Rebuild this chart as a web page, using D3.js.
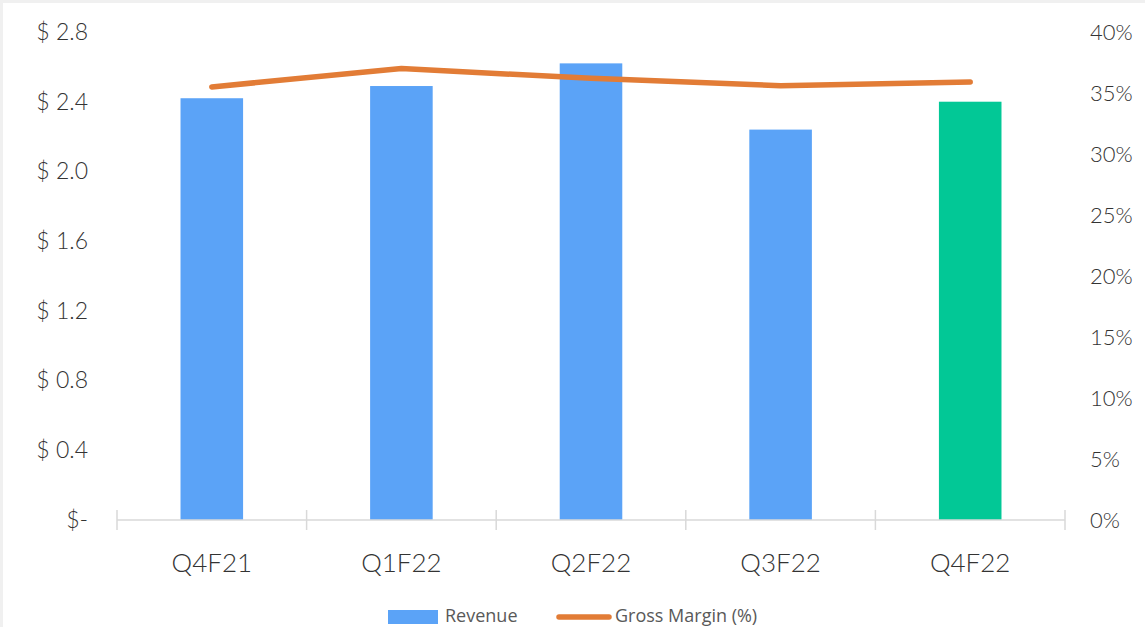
<!DOCTYPE html>
<html>
<head>
<meta charset="utf-8">
<script src="https://cdn.jsdelivr.net/npm/d3@7"></script>
<style>
  body { margin: 0; background: #fff; }
  svg { display: block; }
</style>
</head>
<body>
<div id="chart"></div>
<script>
//Chart data
var quarters = ["Q4F21", "Q1F22", "Q2F22", "Q3F22", "Q4F22"];
var revenue = [2.42, 2.49, 2.62, 2.24, 2.40];
var grossMargin = [0.355, 0.370, 0.362, 0.356, 0.359];
var revenueTicks = [0, 0.4, 0.8, 1.2, 1.6, 2.0, 2.4, 2.8];
var marginTicks = [0, 0.05, 0.1, 0.15, 0.2, 0.25, 0.3, 0.35, 0.4];

//Constants for the SVG
var width = 1145,
  height = 627;
var margin = { top: 32, right: 80, bottom: 107, left: 117 };

var svg = d3
  .select("#chart")
  .append("svg")
  .attr("width", width)
  .attr("height", height);

//thin grey frame at the top and left edges
svg.append("rect").attr("width", width).attr("height", height).attr("fill", "#f0f0f0");
svg.append("rect").attr("x", 3).attr("y", 3).attr("width", width).attr("height", height).attr("fill", "#fff");

var x = d3
  .scaleBand()
  .domain(quarters)
  .range([margin.left, width - margin.right])
  .paddingInner(0.67)
  .paddingOuter(0.335);

var band = d3.scaleBand().domain(quarters).range([margin.left, width - margin.right]);

var yLeft = d3
  .scaleLinear()
  .domain([0, 2.8])
  .range([height - margin.bottom, margin.top]);

var yRight = d3
  .scaleLinear()
  .domain([0, 0.4])
  .range([height - margin.bottom, margin.top]);

var tickFont = "Lato, 'DejaVu Sans', sans-serif";

//Left axis (no line)
var leftAxis = svg
  .append("g")
  .attr("transform", "translate(88,0)")
  .call(
    d3
      .axisLeft(yLeft)
      .tickValues(revenueTicks)
      .tickSize(0)
      .tickPadding(0)
      .tickFormat(function (d) {
        return d === 0 ? "$-" : "$ " + d.toFixed(1);
      })
  );
leftAxis.select(".domain").remove();
leftAxis
  .selectAll("text")
  .style("font-family", tickFont)
  .style("font-weight", 300)
  .style("font-size", "23px")
  .attr("fill", "#333");

//Right axis (no line)
var rightAxis = svg
  .append("g")
  .attr("transform", "translate(1090,0)")
  .call(
    d3
      .axisRight(yRight)
      .tickValues(marginTicks)
      .tickSize(0)
      .tickPadding(0)
      .tickFormat(d3.format(".0%"))
  );
rightAxis.select(".domain").remove();
rightAxis
  .selectAll("text")
  .style("font-family", tickFont)
  .style("font-weight", 300)
  .style("font-size", "22px")
  .attr("fill", "#333");

//Bars
svg
  .append("g")
  .selectAll("rect")
  .data(revenue)
  .enter()
  .append("rect")
  .attr("x", function (d, i) {
    return x(quarters[i]);
  })
  .attr("width", x.bandwidth())
  .attr("y", function (d) {
    return yLeft(d);
  })
  .attr("height", function (d) {
    return yLeft(0) - yLeft(d);
  })
  .attr("fill", function (d, i) {
    return i === quarters.length - 1 ? "#02c896" : "#5ba3f7";
  });

//Category axis with boundary ticks
var baseY = yLeft(0);
var xAxis = svg.append("g");
xAxis
  .append("line")
  .attr("x1", margin.left)
  .attr("x2", width - margin.right)
  .attr("y1", baseY)
  .attr("y2", baseY)
  .attr("stroke", "#d9d9d9")
  .attr("stroke-width", 1.5);
xAxis
  .selectAll("line.tick")
  .data(quarters.concat(["end"]))
  .enter()
  .append("line")
  .attr("class", "tick")
  .attr("x1", function (d, i) {
    return i < quarters.length ? band(d) : width - margin.right;
  })
  .attr("x2", function (d, i) {
    return i < quarters.length ? band(d) : width - margin.right;
  })
  .attr("y1", baseY - 10)
  .attr("y2", baseY + 10)
  .attr("stroke", "#d9d9d9")
  .attr("stroke-width", 1.5);
xAxis
  .selectAll("text")
  .data(quarters)
  .enter()
  .append("text")
  .attr("x", function (d) {
    return band(d) + band.bandwidth() / 2;
  })
  .attr("y", baseY + 52)
  .attr("text-anchor", "middle")
  .style("font-family", tickFont)
  .style("font-weight", 300)
  .style("font-size", "26px")
  .attr("fill", "#333")
  .text(function (d) {
    return d;
  });

//Gross margin line
var line = d3
  .line()
  .x(function (d, i) {
    return band(quarters[i]) + band.bandwidth() / 2;
  })
  .y(function (d) {
    return yRight(d);
  });

svg
  .append("path")
  .datum(grossMargin)
  .attr("d", line)
  .attr("fill", "none")
  .attr("stroke", "#e27c36")
  .attr("stroke-width", 5.5)
  .attr("stroke-linecap", "round")
  .attr("stroke-linejoin", "round");

//Legend
var legend = svg.append("g").style("font-family", "'Open Sans', sans-serif");
legend
  .append("rect")
  .attr("x", 388)
  .attr("y", 610)
  .attr("width", 50)
  .attr("height", 14)
  .attr("fill", "#5ba3f7");
legend
  .append("text")
  .attr("x", 445)
  .attr("y", 622)
  .style("font-size", "18px")
  .attr("fill", "#595959")
  .text("Revenue");
legend
  .append("line")
  .attr("x1", 559)
  .attr("x2", 609)
  .attr("y1", 617)
  .attr("y2", 617)
  .attr("stroke", "#e27c36")
  .attr("stroke-width", 5.5)
  .attr("stroke-linecap", "round");
legend
  .append("text")
  .attr("x", 615)
  .attr("y", 622)
  .style("font-size", "18px")
  .attr("fill", "#595959")
  .text("Gross Margin (%)");
</script>
</body>
</html>
